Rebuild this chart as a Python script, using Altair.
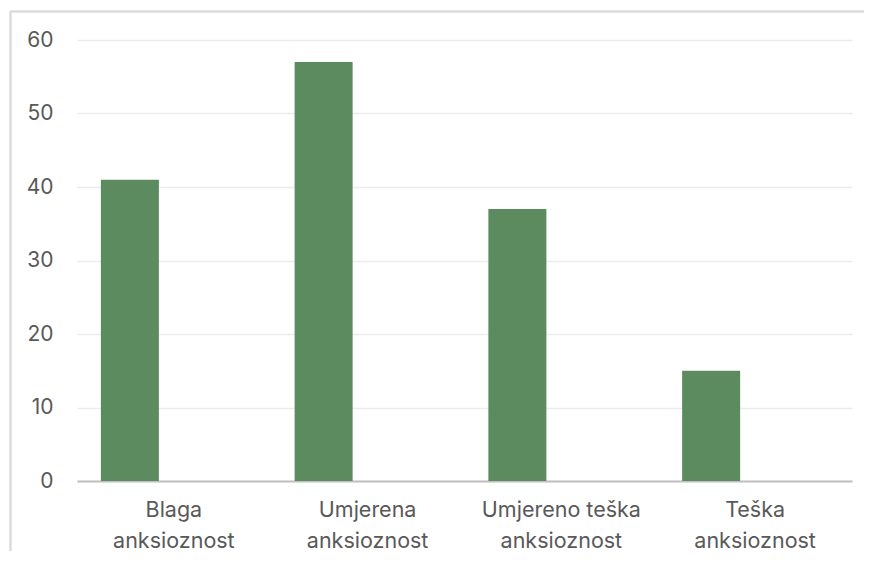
import altair as alt
import pandas as pd

categories = ["Blaga anksioznost", "Umjerena anksioznost", "Umjereno teška anksioznost", "Teška anksioznost"]
values = [41, 57, 37, 15]
y_ticks = [0, 10, 20, 30, 40, 50, 60]

df = pd.DataFrame({"kategorija": categories, "broj": values})

FONT = "Inter"
TXT = "#595959"

bars = alt.Chart(df).mark_bar(color="#5b8b5e", width=58, xOffset=-44).encode(
    x=alt.X(
        "kategorija:N",
        sort=categories,
        scale=alt.Scale(paddingInner=0, paddingOuter=0),
        axis=alt.Axis(
            title=None,
            labelAngle=0,
            labelExpr="[substring(datum.label, 0, lastindexof(datum.label, ' ')), substring(datum.label, lastindexof(datum.label, ' ') + 1)]",
            labelFont=FONT,
            labelFontSize=21.5,
            labelColor=TXT,
            labelLineHeight=31,
            labelPadding=18,
            ticks=False,
            grid=False,
            domainColor="#bfbfbf",
            domainWidth=2,
            labelBaseline="top",
        ),
    ),
    y=alt.Y(
        "broj:Q",
        scale=alt.Scale(domain=[0, 60], nice=False),
        axis=alt.Axis(
            title=None,
            values=y_ticks,
            labelFont=FONT,
            labelFontSize=21,
            labelColor=TXT,
            labelPadding=24,
            ticks=False,
            domain=False,
            gridColor="#ececec",
            gridWidth=1.5,
        ),
    ),
)

frame_top = alt.Chart(df).mark_rule(color="#d9d9d9", strokeWidth=1.5).encode(
    x=alt.value(-66.5), x2=alt.value(900), y=alt.value(-28.5)
)
frame_left = alt.Chart(df).mark_rule(color="#d9d9d9", strokeWidth=1.5).encode(
    x=alt.value(-66.5), y=alt.value(-28.5), y2=alt.value(600)
)

chart = alt.layer(bars, frame_top, frame_left).properties(
    width=775,
    height=441,
    background="white",
    autosize=alt.AutoSizeParams(type="none"),
    padding={"left": 69, "top": 32, "right": 12, "bottom": 70},
).configure_view(stroke=None)

chart.save("out.html", embed_options={"renderer": "svg", "actions": False})
